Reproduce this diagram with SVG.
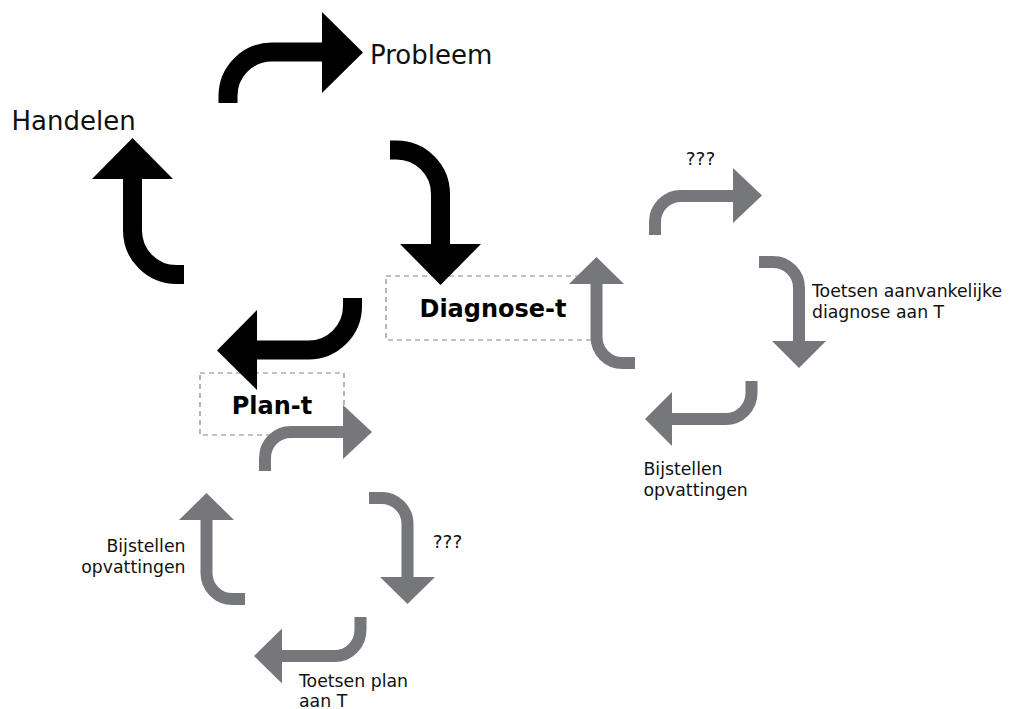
<svg xmlns="http://www.w3.org/2000/svg" width="1010" height="709" viewBox="0 0 1010 709">
<style>
.bk{fill:none;stroke:#000;stroke-width:19}
.bkh{fill:#000}
.gy{fill:none;stroke:#76777a;stroke-width:12}
.gyh{fill:#76777a}
.box{fill:none;stroke:#858585;stroke-width:1.2;stroke-dasharray:5 4}
.big{font-family:"DejaVu Sans",sans-serif;font-size:26px;fill:#111}
.bold{font-family:"DejaVu Sans",sans-serif;font-size:24px;font-weight:bold;fill:#000;text-anchor:middle}
.sm{font-family:"DejaVu Sans",sans-serif;font-size:17.3px;fill:#111}
.q{font-family:"DejaVu Sans",sans-serif;font-size:18.5px;fill:#111;text-anchor:middle}
</style>
<rect width="1010" height="709" fill="#fff"/>
<g id="node-diagnose">
<rect class="box" x="386" y="276" width="210" height="64"/>
<text class="bold" x="493" y="317">Diagnose-t</text>
</g>
<g id="node-plan">
<rect class="box" x="200" y="373" width="144" height="62"/>
<text class="bold" x="272" y="414">Plan-t</text>
</g>
<g id="node-probleem"><text class="big" x="370" y="64">Probleem</text></g>
<g id="node-handelen"><text class="big" x="11.5" y="130">Handelen</text></g>
<g id="label-diag-top"><text class="q" x="700.5" y="165">???</text></g>
<g id="label-diag-right"><text class="sm" x="812" y="297">Toetsen aanvankelijke</text><text class="sm" x="812" y="318">diagnose aan T</text></g>
<g id="label-diag-bottom"><text class="sm" x="643.5" y="475">Bijstellen</text><text class="sm" x="643.5" y="495.5">opvattingen</text></g>
<g id="label-plan-right"><text class="q" x="447.5" y="548">???</text></g>
<g id="label-plan-left"><text class="sm" x="185.5" y="552" text-anchor="end">Bijstellen</text><text class="sm" x="185.5" y="573" text-anchor="end">opvattingen</text></g>
<g id="label-plan-bottom"><text class="sm" x="299" y="687">Toetsen plan</text><text class="sm" x="299" y="707">aan T</text></g>
<g id="connectors">
<path class="bk" d="M228,103 V96 A44,44 0 0 1 272,52 H323"/>
<polygon class="bkh" points="322,12 363,52.5 322,93"/>
<path class="bk" d="M390,150 H396.5 A44,44 0 0 1 440.5,194 V245"/>
<polygon class="bkh" points="400,244 481,244 440.5,285"/>
<path class="bk" d="M352.5,298 V306 A44,44 0 0 1 308.5,350 H256"/>
<polygon class="bkh" points="257,310 217,350.5 257,390"/>
<path class="bk" d="M184,274.5 H176.5 A44,44 0 0 1 132.5,230.5 V178"/>
<polygon class="bkh" points="92,179 173,179 132.5,138"/>
<path class="gy" d="M655,235 V222 A26,26 0 0 1 681,196 H734"/>
<polygon class="gyh" points="733,168 762,195.5 733,223"/>
<path class="gy" d="M759,262 H773 A26,26 0 0 1 799,288 V342"/>
<polygon class="gyh" points="772,341 826,341 799,368"/>
<path class="gy" d="M751.5,381 V393 A26,26 0 0 1 725.5,419 H671"/>
<polygon class="gyh" points="672,392 645,419 672,446"/>
<path class="gy" d="M635,363 H622.5 A26,26 0 0 1 596.5,337 V283"/>
<polygon class="gyh" points="569,284 624,284 596.5,257"/>
<path class="gy" d="M265,471 V458 A26,26 0 0 1 291,432 H344"/>
<polygon class="gyh" points="343,405 372,432 343,459"/>
<path class="gy" d="M369,498 H381.5 A26,26 0 0 1 407.5,524 V578"/>
<polygon class="gyh" points="380,577 435,577 407.5,604"/>
<path class="gy" d="M360.5,617 V630 A26,26 0 0 1 334.5,656 H281"/>
<polygon class="gyh" points="282,628.5 254,656 282,683.5"/>
<path class="gy" d="M245,599 H232.5 A26,26 0 0 1 206.5,573 V519"/>
<polygon class="gyh" points="179,520 234,520 206.5,493"/>
</g>
</svg>
